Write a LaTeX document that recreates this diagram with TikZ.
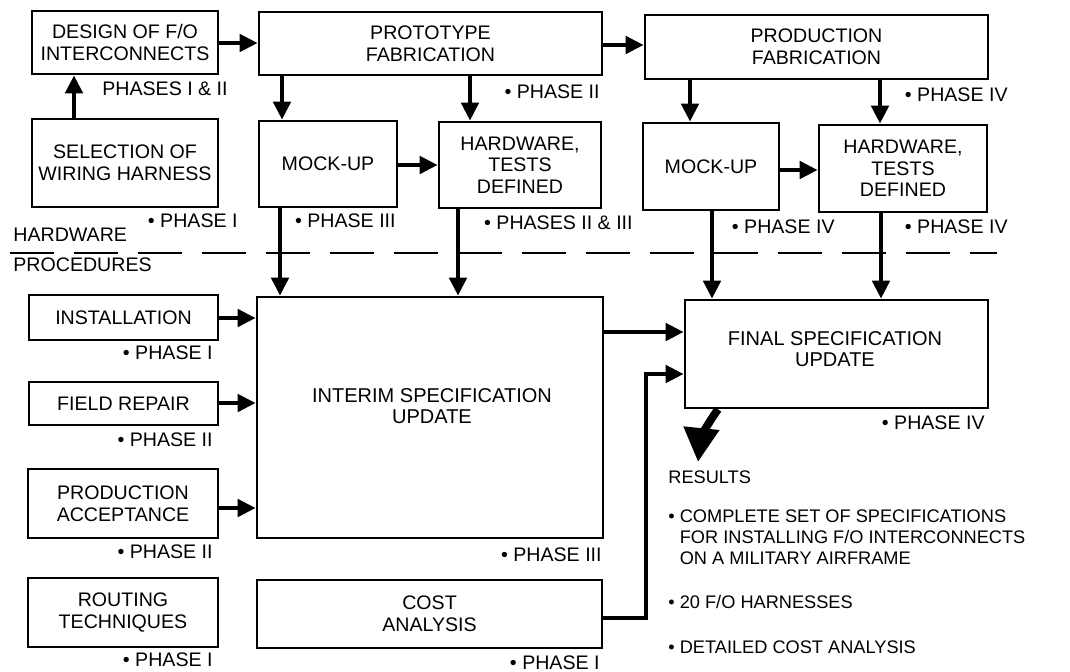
\documentclass[tikz,border=0pt]{standalone}
\usepackage{fontspec}
\setmainfont{Liberation Sans}
\usetikzlibrary{arrows.meta, positioning}

\begin{document}
\begin{tikzpicture}[
    x=0.5pt,   % 1 unit = 1 px of the original sheet
    y=-0.5pt,  % y runs downward
    >={Triangle[length=9pt, width=8.5pt]},
    blk/.style={draw, line width=1.3pt, align=center, inner sep=0pt,
        font=\fontsize{9.8}{10.8}\selectfont},
    phase/.style={anchor=east, inner sep=0pt, font=\fontsize{9.8}{10.8}\selectfont},
    flow/.style={->, line width=2.3pt},
    restext/.style={anchor=west, align=left, inner sep=0pt, font=\fontsize{9.1}{10.5}\selectfont}
]
    \useasboundingbox (0,0) rectangle (1070,671);

    % --- Hardware side ---
    \node[blk, minimum width=93pt, minimum height=31.5pt] (design) at (125,42.5) {DESIGN OF F/O\\INTERCONNECTS};
    \node[blk, minimum width=93pt, minimum height=44pt] (select) at (125,163) {SELECTION OF\\WIRING HARNESS};
    \node[blk, minimum width=171.5pt, minimum height=31.5pt] (proto) at (430.5,43.5) {PROTOTYPE\\FABRICATION};
    \node[blk, minimum width=69pt, minimum height=43pt] (mockA) at (328,164) {MOCK-UP};
    \node[blk, minimum width=81pt, minimum height=43pt] (hwA) at (520,165) {HARDWARE,\\TESTS\\DEFINED};
    \node[blk, minimum width=171.5pt, minimum height=32pt] (prodfab) at (816.5,47) {PRODUCTION\\FABRICATION};
    \node[blk, minimum width=68pt, minimum height=43.5pt] (mockB) at (711,166.5) {MOCK-UP};
    \node[blk, minimum width=84pt, minimum height=43.5pt] (hwB) at (903,168.5) {HARDWARE,\\TESTS\\DEFINED};

    % --- Procedures side ---
    \node[blk, minimum width=94.5pt, minimum height=22.5pt] (install) at (123.5,317.5) {INSTALLATION};
    \node[blk, minimum width=94.5pt, minimum height=21.5pt] (repair) at (123.5,403.5) {FIELD REPAIR};
    \node[blk, minimum width=95pt, minimum height=34.5pt] (accept) at (123,503.5) {PRODUCTION\\ACCEPTANCE};
    \node[blk, minimum width=95pt, minimum height=34.5pt] (routing) at (123,612.5) {ROUTING\\TECHNIQUES};
    \node[blk, minimum width=173pt, minimum height=120.5pt] (interim) at (430,417.5) {};
    \node[blk, draw=none, font=\fontsize{10}{10.8}\selectfont] (interimtxt) at (432,406) {INTERIM SPECIFICATION\\UPDATE};
    \node[blk, minimum width=172.5pt, minimum height=34pt] (cost) at (429.5,614) {COST\\ANALYSIS};
    \node[blk, minimum width=151.5pt, minimum height=54pt] (final) at (836.5,354) {};
    \node[blk, draw=none, font=\fontsize{10}{10.8}\selectfont] (finaltxt) at (835,349) {FINAL SPECIFICATION\\UPDATE};

    % --- Phase labels ---
    \foreach \px/\py/\txt [count=\i] in {
        228/89/{PHASES I \& II},
        238/221/{\textbullet\ PHASE I},
        396/221/{\textbullet\ PHASE III},
        600/92/{\textbullet\ PHASE II},
        633/223/{\textbullet\ PHASES II \& III},
        1008/95/{\textbullet\ PHASE IV},
        835/227/{\textbullet\ PHASE IV},
        1008/227/{\textbullet\ PHASE IV},
        213/353/{\textbullet\ PHASE I},
        213/440/{\textbullet\ PHASE II},
        213/552/{\textbullet\ PHASE II},
        213/660/{\textbullet\ PHASE I},
        602/555/{\textbullet\ PHASE III},
        600/663/{\textbullet\ PHASE I},
        985/423/{\textbullet\ PHASE IV}} {
        \node[phase] (ph\i) at (\px,\py) {\txt};
    }

    % --- Divider between hardware and procedures ---
    \coordinate (divL) at (10,253);
    \coordinate (divR) at (997,253);
    \draw[line width=1pt, dash pattern=on 22pt off 10pt] (divL) -- (divR);
    \node[phase, anchor=west] (hwlabel) at (13,235) {HARDWARE};
    \node[phase, anchor=west] (proclabel) at (13,265) {PROCEDURES};

    % --- Flow arrows (hardware) ---
    \draw[flow] (select.north -| 74,0) -- (design.south -| 74,0);
    \draw[flow] (design.east |- 0,43) -- (proto.west |- 0,43);
    \draw[flow] (proto.east |- 0,45) -- (prodfab.west |- 0,45);
    \draw[flow] (proto.south -| 282,0) -- (mockA.north -| 282,0);
    \draw[flow] (proto.south -| 470,0) -- (hwA.north -| 470,0);
    \draw[flow] (mockA.east |- 0,165) -- (hwA.west |- 0,165);
    \draw[flow] (prodfab.south -| 690,0) -- (mockB.north -| 690,0);
    \draw[flow] (prodfab.south -| 880,0) -- (hwB.north -| 880,0);
    \draw[flow] (mockB.east |- 0,170) -- (hwB.west |- 0,170);

    % --- Hardware into the specifications ---
    \draw[flow] (mockA.south -| 280,0) -- (interim.north -| 280,0);
    \draw[flow] (hwA.south -| 458,0) -- (interim.north -| 458,0);
    \draw[flow] (mockB.south -| 712,0) -- (final.north -| 712,0);
    \draw[flow] (hwB.south -| 881,0) -- (final.north -| 881,0);

    % --- Procedures into the interim update ---
    \draw[flow] (install.east |- 0,318) -- (interim.west |- 0,318);
    \draw[flow] (repair.east |- 0,403) -- (interim.west |- 0,403);
    \draw[flow] (accept.east |- 0,508) -- (interim.west |- 0,508);

    % --- Into the final update ---
    \draw[flow] (interim.east |- 0,332) -- (final.west |- 0,332);
    \coordinate (costbend) at (646,374);
    \draw[flow] (cost.east |- 0,618) -| (costbend) -- (final.west |- costbend);

    % --- Results ---
    \coordinate (restip) at (698,462);
    \draw[line width=4pt, -{Triangle[length=17pt, width=17pt]}] (final.south -| 718,0) to[bend right=15] (restip);
    \node[restext] (res) at (668,477) {RESULTS};
    \node[restext] (resA) at (668,537) {\textbullet\ COMPLETE SET OF SPECIFICATIONS\\
        \phantom{\textbullet\ }FOR INSTALLING F/O INTERCONNECTS\\
        \phantom{\textbullet\ }ON A MILITARY AIRFRAME};
    \node[restext] (resB) at (668,602) {\textbullet\ 20 F/O HARNESSES};
    \node[restext] (resC) at (668,647) {\textbullet\ DETAILED COST ANALYSIS};

\end{tikzpicture}
\end{document}
